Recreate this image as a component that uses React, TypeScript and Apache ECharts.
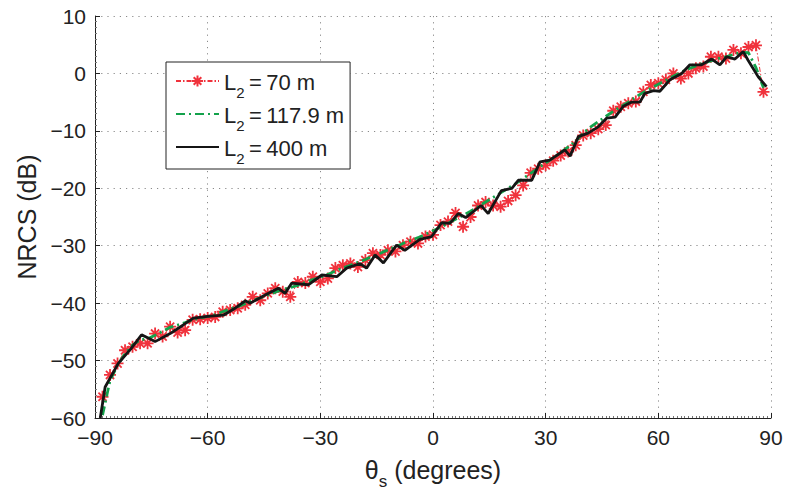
import React, { useEffect, useRef } from "react";
import * as echarts from "echarts";

const xTicks = [-90, -60, -30, 0, 30, 60, 90];
const yTicks = [-60, -50, -40, -30, -20, -10, 0, 10];

const redX = [
  -88, -86, -84, -82, -80, -78, -76, -74, -72, -70, -68, -66, -64, -62, -60, -58, -56, -54, -52, -50,
  -48, -46, -44, -42, -40, -38, -36, -34, -32, -30, -28, -26, -24, -22, -20, -18, -16, -14, -12, -10,
  -8, -6, -4, -2, 0, 2, 4, 6, 8, 10, 12, 14, 16, 18, 20, 22, 24, 26, 28, 30,
  32, 34, 36, 38, 40, 42, 44, 46, 48, 50, 52, 54, 56, 58, 60, 62, 64, 66, 68, 70,
  72, 74, 76, 78, 80, 82, 84, 86, 88,
];
const redY = [
  -56.3, -52.5, -50.5, -48.2, -47.6, -47.0, -47.0, -45.3, -45.8, -44.1, -45.1, -44.7, -42.9, -42.8, -42.6, -42.4, -41.5, -41.2, -40.9, -40.3,
  -38.9, -39.5, -38.3, -37.4, -38.0, -38.9, -36.3, -36.5, -35.4, -36.3, -35.7, -33.9, -33.4, -33.1, -33.7, -32.5, -31.3, -31.6, -30.8, -31.0,
  -29.9, -29.3, -29.6, -28.4, -28.1, -26.4, -25.8, -24.3, -26.7, -25.0, -23.0, -22.4, -23.0, -23.2, -22.2, -21.2, -19.5, -17.3, -16.6, -16.0,
  -15.2, -14.3, -13.6, -12.5, -10.8, -10.4, -9.7, -9.0, -6.5, -5.8, -5.2, -4.9, -3.2, -2.0, -1.7, -1.1, 0.0, -0.9, 0.0, 0.9,
  1.2, 2.9, 2.9, 2.6, 4.1, 3.5, 4.6, 4.9, -3.2,
];

const greenX = redX;
const greenY = [
  -59.5, -53.5, -50.8, -48.8, -47.3, -46.4, -46.2, -45.6, -44.9, -44.2, -43.8, -43.4, -42.9, -42.6, -42.3, -42.0, -41.5, -41.0, -40.6, -40.1,
  -39.5, -39.1, -38.6, -38.1, -37.6, -37.3, -36.9, -36.4, -35.9, -35.5, -35.0, -34.4, -33.9, -33.4, -32.9, -32.4, -31.8, -31.3, -30.7, -30.2,
  -29.6, -29.1, -28.6, -28.0, -27.4, -26.8, -26.1, -25.4, -24.7, -24.0, -23.2, -22.4, -21.6, -20.8, -20.0, -19.2, -18.3, -17.4, -16.5, -15.6,
  -14.7, -13.8, -12.8, -11.8, -10.4, -9.3, -8.4, -7.5, -6.6, -5.8, -5.0, -4.1, -3.3, -2.6, -1.9, -1.2, -0.5, 0.2, 0.8, 1.3,
  1.8, 2.2, 2.6, 2.9, 3.3, 3.7, 3.6, 1.0, -2.5,
];

const blackX = [
  -88.6, -87.3, -85.5, -83.8, -80.5, -77.6, -74.0, -70.0, -66.5, -63.8, -60.0, -55.8, -52.5, -50.0, -48.7, -44.7, -41.2, -39.4, -37.6, -33.2,
  -29.6, -25.6, -23.0, -19.4, -17.7, -15.4, -13.2, -9.7, -7.5, -3.5, -0.35, 2.3, 4.5, 6.7, 8.7, 12.8, 14.7, 18.2, 21.0, 22.7,
  26.3, 28.5, 31.1, 33.8, 35.1, 36.5, 38.7, 41.3, 44.0, 46.2, 48.5, 50.7, 52.8, 55.1, 56.4, 58.7, 60.4, 63.1, 66.2, 68.4,
  71.5, 74.2, 76.4, 78.2, 80.4, 82.6, 83.9, 86.6, 88.8,
];
const blackY = [
  -60.0, -54.6, -52.5, -50.5, -48.0, -45.5, -46.7, -45.3, -43.8, -42.6, -42.3, -42.1, -40.8, -39.6, -40.0, -38.6, -37.4, -38.3, -36.5, -36.8,
  -35.1, -35.4, -33.9, -33.1, -33.9, -31.6, -33.0, -29.9, -30.8, -28.9, -28.4, -26.0, -26.1, -24.4, -25.1, -23.0, -24.4, -20.4, -20.0, -18.6,
  -18.6, -15.4, -15.1, -13.9, -13.3, -14.4, -11.0, -10.4, -9.3, -7.8, -7.6, -5.7, -5.0, -5.0, -3.5, -3.0, -3.1, -1.1, 0.0, 1.5,
  1.5, 2.5, 1.5, 2.9, 2.5, 3.8, 2.3, -0.6, -2.3,
];

const seriesNames = ["L2 = 70 m", "L2 = 117.9 m", "L2 = 400 m"];
const legendRich: Record<string, string> = {
  "L2 = 70 m": "{a|L}{s|2}{a|\u2009=\u200970 m}",
  "L2 = 117.9 m": "{a|L}{s|2}{a|\u2009=\u2009117.9 m}",
  "L2 = 400 m": "{a|L}{s|2}{a|\u2009=\u2009400 m}",
};

const RED = "#f0323c";
const GREEN = "#13a24b";
const BLACK = "#151515";
const FONT = "Liberation Sans, Arial, Helvetica, sans-serif";

const pair = (xs: number[], ys: number[]) => xs.map((x, i) => [x, ys[i]]);
const fmt = (v: number) => (v < 0 ? "\u2212" + Math.abs(v) : String(v));

const STAR = "path://M5,0L5,10M0,5L10,5M1.6,1.6L8.4,8.4M8.4,1.6L1.6,8.4";

export default function App() {
  const ref = useRef<HTMLDivElement>(null);
  useEffect(() => {
    if (!ref.current) return;
    const chart = echarts.init(ref.current, null, { renderer: "svg" });
    const gridLine = { show: true, lineStyle: { color: "#8a8a8a", width: 1, type: [1.2, 5] as any } };
    const hidden = { opacity: 0, color: "transparent", borderColor: "transparent", borderWidth: 0 };
    chart.setOption({
      animation: false,
      backgroundColor: "#ffffff",
      grid: { left: 95, right: 18, top: 16, bottom: 72, containLabel: false, outerBoundsMode: "none" },
      legend: {
        orient: "vertical",
        left: 166,
        top: 62,
        padding: [9, 6, 3, 9],
        itemWidth: 43,
        itemHeight: 14,
        itemGap: 4,
        backgroundColor: "#ffffff",
        borderColor: "#222",
        borderWidth: 1,
        borderRadius: 0,
        data: [
          { name: seriesNames[0] },
          { name: seriesNames[1], itemStyle: hidden },
          { name: seriesNames[2], itemStyle: hidden },
        ],
        formatter: (name: string) => legendRich[name],
        textStyle: {
          fontFamily: FONT,
          color: "#222",
          rich: {
            a: { fontSize: 22, fontFamily: FONT, color: "#222", lineHeight: 24, verticalAlign: "bottom" },
            s: { fontSize: 15, fontFamily: FONT, color: "#222", lineHeight: 12, verticalAlign: "bottom", padding: [0, 0, -7, 0] },
          },
        },
      },
      xAxis: {
        type: "value",
        min: -90,
        max: 90,
        interval: 30,
        name: "{a|θ}{s|s}{a| (degrees)}",
        nameLocation: "middle",
        nameGap: 36,
        nameTextStyle: {
          rich: {
            a: { fontSize: 25, fontFamily: FONT, color: "#222", lineHeight: 28, verticalAlign: "bottom" },
            s: { fontSize: 17, fontFamily: FONT, color: "#222", lineHeight: 14, verticalAlign: "bottom", padding: [0, 0, -8, 0] },
          },
        },
        axisLine: { show: true, onZero: false, lineStyle: { color: "#222", width: 1 } },
        axisTick: { show: true, inside: true, length: 5, lineStyle: { color: "#222" } },
        minorTick: { show: true, splitNumber: 30, length: 2, lineStyle: { color: "#777" } },
        axisLabel: { fontSize: 21, fontFamily: FONT, color: "#222", margin: 9, formatter: fmt },
        splitLine: gridLine,
      },
      yAxis: {
        type: "value",
        min: -60,
        max: 10,
        interval: 10,
        name: "NRCS (dB)",
        nameLocation: "middle",
        nameGap: 54,
        nameTextStyle: { fontSize: 25, fontFamily: FONT, color: "#222" },
        axisLine: { show: true, onZero: false, lineStyle: { color: "#222", width: 1 } },
        axisTick: { show: true, inside: true, length: 5, lineStyle: { color: "#222" } },
        minorTick: { show: true, splitNumber: 10, length: 2, lineStyle: { color: "#777" } },
        axisLabel: { fontSize: 21, fontFamily: FONT, color: "#222", margin: 9, formatter: fmt },
        splitLine: gridLine,
      },
      series: [
        {
          name: seriesNames[0],
          type: "line",
          data: pair(redX, redY),
          symbol: STAR,
          symbolSize: 12,
          showAllSymbol: true,
          color: RED,
          itemStyle: { color: RED, borderColor: RED, borderWidth: 1.8 },
          lineStyle: { color: RED, width: 1, type: [5, 2, 1.5, 2] as any },
          z: 2,
        },
        {
          name: seriesNames[1],
          type: "line",
          data: pair(greenX, greenY),
          showSymbol: false,
          symbol: "none",
          color: GREEN,
          lineStyle: { color: GREEN, width: 2.8, type: [9, 4, 2, 4] as any },
          z: 3,
        },
        {
          name: seriesNames[2],
          type: "line",
          data: pair(blackX, blackY),
          showSymbol: false,
          symbol: "none",
          color: BLACK,
          lineStyle: { color: BLACK, width: 2.8 },
          z: 4,
        },
      ],
    });
    return () => chart.dispose();
  }, []);
  return <div ref={ref} style={{ width: 789, height: 490, position: "fixed", left: 0, top: 0 }} />;
}
